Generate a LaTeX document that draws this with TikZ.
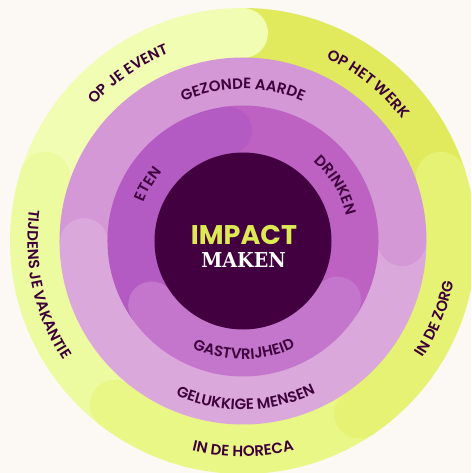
\documentclass[tikz,border=0pt]{standalone}
\usepackage{fontspec}
\usetikzlibrary{decorations.text}
\newfontfamily\lab{Poppins SemiBold}
\newfontfamily\impfont{Poppins}
\newfontfamily\slab{DejaVu Serif}

\definecolor{bg}{HTML}{FCF8F4}
\definecolor{txt}{HTML}{3D003B}
\definecolor{core}{HTML}{420040}
\definecolor{impact}{HTML}{DCE854}
% outer ring
\definecolor{cEvent}{HTML}{F0FDB3}
\definecolor{cWerk}{HTML}{E0EA5C}
\definecolor{cZorg}{HTML}{E5F274}
\definecolor{cHoreca}{HTML}{E8F785}
\definecolor{cVakantie}{HTML}{EDFBA0}
% middle ring
\definecolor{cAarde}{HTML}{D398D5}
\definecolor{cMensen}{HTML}{DBA8DB}
% inner ring
\definecolor{cEten}{HTML}{B45AC3}
\definecolor{cDrinken}{HTML}{BD62C3}
\definecolor{cGast}{HTML}{C476CC}

% annular sector: colour, start angle, end angle, inner radius, outer radius
\newcommand{\ringpart}[5]{%
  \fill[#1] (#2:#5) arc[start angle=#2,end angle=#3,radius=#5]
    -- (#3:#4) arc[start angle=#3,end angle=#2,radius=#4] -- cycle;}
% rounded end of a segment: colour, angle, mid radius, half width
\newcommand{\segcap}[4]{\fill[#1] (#2:#3) circle[radius=#4];}
% label reading clockwise (letters upright outward): angle, baseline radius, text
\newcommand{\cwlabel}[3]{%
  \path[decorate,decoration={text along path,text align=center,text color=txt,
    text={|\lab\fontsize{15}{17}\selectfont|#3}}]
    ({#1+70}:#2) arc[start angle={#1+70},end angle={#1-70},radius=#2];}
% label reading counter-clockwise (letters upright inward)
\newcommand{\ccwlabel}[3]{%
  \path[decorate,decoration={text along path,text align=center,text color=txt,
    text={|\lab\fontsize{15}{17}\selectfont|#3}}]
    ({#1-70}:#2) arc[start angle={#1-70},end angle={#1+70},radius=#2];}

\begin{document}
\begin{tikzpicture}[x=1pt,y=1pt]
\useasboundingbox (-243,-232) rectangle (228,241);
\clip (-243,-232) rectangle (228,241);
\fill[bg] (-243,-232) rectangle (228,241);

% outer ring: where you make an impact
\ringpart{cEvent}{89.5}{162.5}{182.5}{233}
\ringpart{cVakantie}{161.5}{232.5}{182.5}{233}
\ringpart{cHoreca}{231.5}{304.5}{182.5}{233}
\ringpart{cZorg}{-56.5}{18.5}{182.5}{233}
\ringpart{cWerk}{17.5}{90.5}{182.5}{233}
\segcap{cEvent}{90}{208}{25}
\segcap{cVakantie}{162}{208}{25}
\segcap{cHoreca}{232}{208}{25}
\segcap{cZorg}{-56}{208}{25}
\segcap{cZorg}{18}{208}{25}

% middle ring
\ringpart{cAarde}{-0.9}{180.9}{134.5}{183.5}
\ringpart{cMensen}{179.5}{360.5}{134.5}{183.5}
\segcap{cAarde}{-0.4}{159}{24}
\segcap{cMensen}{180.4}{159}{24}

% inner ring
\ringpart{cDrinken}{-32.5}{98}{88}{135.5}
\ringpart{cEten}{97}{215.5}{88}{135.5}
\ringpart{cGast}{214.5}{328.5}{88}{135.5}
\segcap{cEten}{97.5}{111.5}{23.5}
\segcap{cGast}{215}{111.5}{23.5}
\segcap{cGast}{-32}{111.5}{23.5}

% core
\fill[core] (0,0) circle[radius=88.5];
\node[anchor=base,text=impact,inner sep=0] (impact) at (1,-4)
  {\impfont\bfseries\fontsize{27}{30}\selectfont IMPACT};
\node[anchor=base,text=white,inner sep=0,xscale=0.93] (maken) at (0.5,-26.3)
  {\slab\bfseries\fontsize{20.5}{24}\selectfont MAKEN};

% labels
\cwlabel{124.5}{201.5}{OP JE EVENT}
\cwlabel{51.5}{200.5}{OP HET WERK}
\ccwlabel{-22}{214.5}{IN DE ZORG}
\ccwlabel{-90}{215.5}{IN DE HORECA}
\ccwlabel{192.5}{215.5}{TIJDENS JE VAKANTIE}
\cwlabel{90}{152}{GEZONDE AARDE}
\ccwlabel{-89}{168.5}{GELUKKIGE MENSEN}
\cwlabel{149}{106.5}{ETEN}
\cwlabel{31}{106.5}{DRINKEN}
\ccwlabel{-89.6}{118.5}{GASTVRIJHEID}
\end{tikzpicture}
\end{document}
